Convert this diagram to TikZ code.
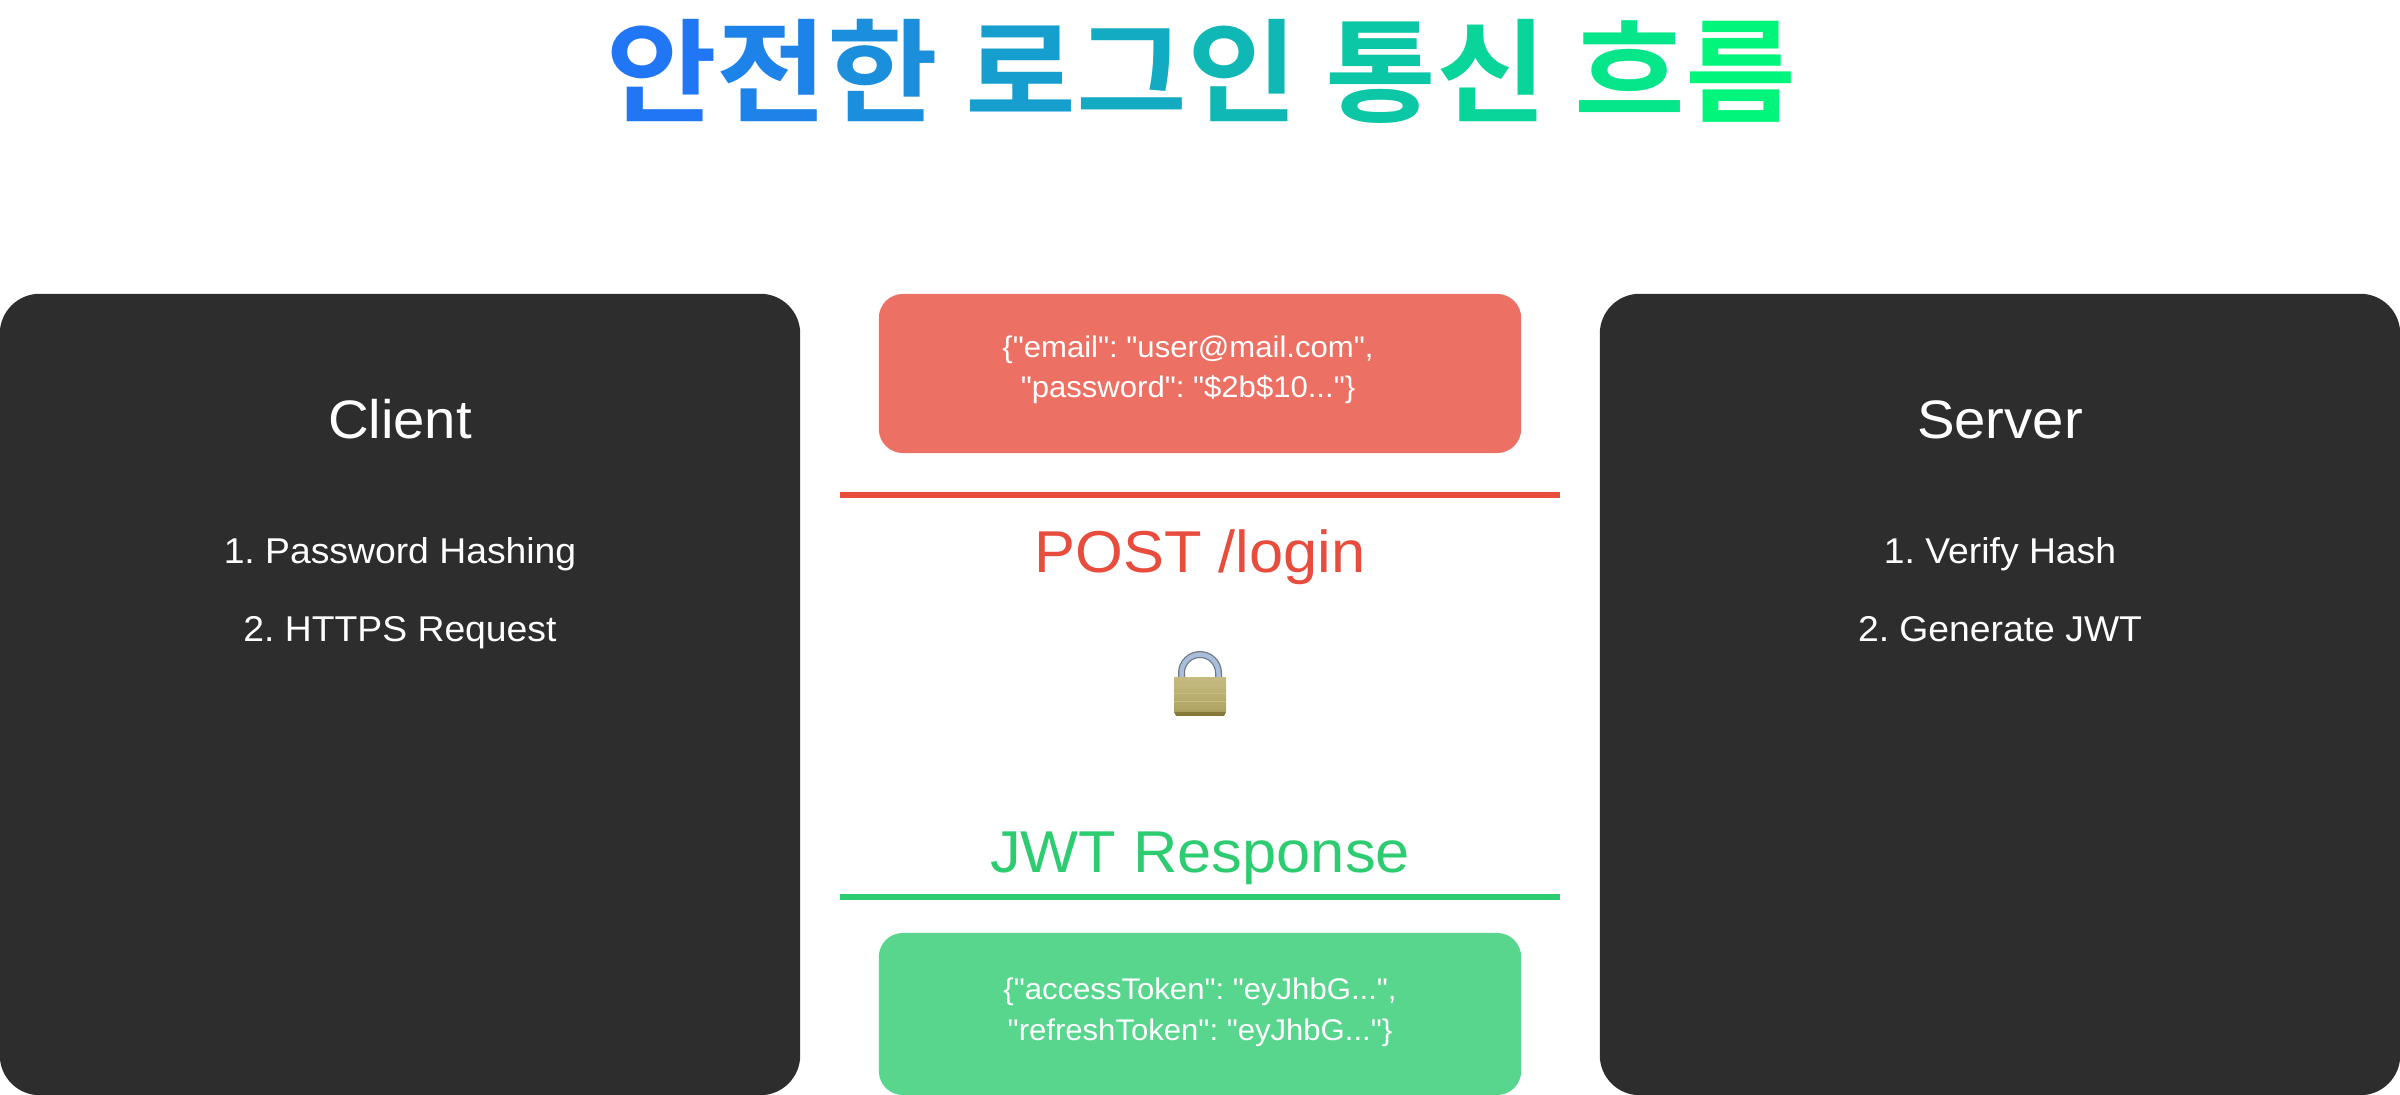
\documentclass[tikz,border=0pt]{standalone}
\usepackage{fontspec}
\setmainfont{Liberation Sans}[Ligatures=TeXOff, FakeStretch=1.04]
\newfontfamily\krfont{Noto Sans CJK KR}[BoldFont={Noto Sans CJK KR Bold}, FakeStretch=1.07]
\usetikzlibrary{positioning}
\definecolor{panelgray}{HTML}{2D2D2D}
\definecolor{postred}{HTML}{E74C3C}
\definecolor{postfill}{HTML}{EC7063}
\definecolor{jwtgreen}{HTML}{2ECC71}
\definecolor{jwtfill}{HTML}{58D68D}
\definecolor{titlestart}{HTML}{2176F5}
\definecolor{titleend}{HTML}{00F57A}
\definecolor{brasstop}{HTML}{C6BB80}
\definecolor{brassbottom}{HTML}{AEA262}
\definecolor{brassedge}{HTML}{85793A}
\definecolor{shackleedge}{HTML}{6F7780}
\definecolor{shacklefill}{HTML}{A9BEDD}
\newcommand{\grad}[2]{\textcolor{titleend!#1!titlestart}{#2}}

\begin{document}
\frenchspacing
\begin{tikzpicture}[x=0.01cm, y=-0.01cm,
    panel/.style={fill=panelgray, rounded corners=0.4cm, minimum width=8cm, minimum height=8.01cm, inner sep=0},
    payload/.style={rounded corners=0.24cm, minimum width=6.42cm, inner sep=0},
    paneltitle/.style={anchor=base, text=white, font=\fontsize{15.4}{18}\selectfont},
    stepline/.style={anchor=base, text=white, font=\fontsize{10.2}{12}\selectfont},
    payloadtext/.style={anchor=base, text=white, align=center, font=\fontsize{8.5}{11.6}\selectfont},
    routelabel/.style={anchor=base, font=\fontsize{16.8}{20}\selectfont},
    routeline/.style={line width=0.06cm}]
    \useasboundingbox (0,0) rectangle (2400,1095);

    % title
    \node [anchor=base, inner sep=0] (title) at (1201,114) {\krfont\bfseries\fontsize{32}{40}\selectfont
      \grad{0}{안}\grad{10}{전}\grad{20}{한} \grad{32}{로}\grad{42}{그}\grad{52}{인} \grad{64}{통}\grad{74}{신} \grad{88}{흐}\grad{100}{름}};

    % client and server
    \node [panel] (client) at (400,694.5) {};
    \node [panel] (server) at (2000,694.5) {};
    \node [paneltitle] (client_title) at (400,439) {Client};
    \node [stepline] (client_1) at (400,564) {1. Password Hashing};
    \node [stepline] (client_2) at (400,642) {2. HTTPS Request};
    \node [paneltitle] (server_title) at (2000,439) {Server};
    \node [stepline] (server_1) at (2000,564) {1. Verify Hash};
    \node [stepline] (server_2) at (2000,642) {2. Generate JWT};

    % request
    \node [payload, fill=postfill, minimum height=1.59cm] (post_box) at (1200,373.5) {};
    \node [payloadtext] (post_text) at (1188,398) {\{"email": "user@mail.com",\\"password": "\$2b\$10..."\}};
    \coordinate (post_l) at (840,495);
    \coordinate (post_r) at (1560,495);
    \draw [routeline, postred] (post_l) -- (post_r);
    \node [routelabel, text=postred] (post_label) at (1200,573) {POST /login};

    % lock
    \draw [line width=0.07cm, shackleedge] (1181.5,680) -- (1181.5,673) arc (180:360:18.5) -- (1218.5,680);
    \draw [line width=0.045cm, shacklefill] (1181.5,680) -- (1181.5,673) arc (180:360:18.5) -- (1218.5,680);
    \fill [top color=brasstop, bottom color=brassbottom] (1174,678) rectangle (1226,712);
    \foreach \stripey in {686,694,702}
      \draw [brasstop, line width=0.01cm] (1174,\stripey) -- (1226,\stripey);
    \fill [brassedge] (1174,712) -- (1226,712) -- (1224,716) -- (1176,716) -- cycle;

    % response
    \node [routelabel, text=jwtgreen] (jwt_label) at (1200,873) {JWT Response};
    \coordinate (jwt_l) at (840,897);
    \coordinate (jwt_r) at (1560,897);
    \draw [routeline, jwtgreen] (jwt_l) -- (jwt_r);
    \node [payload, fill=jwtfill, minimum height=1.62cm] (jwt_box) at (1200,1014) {};
    \node [payloadtext] (jwt_text) at (1200,1040) {\{"accessToken": "eyJhbG...",\\"refreshToken": "eyJhbG..."\}};
\end{tikzpicture}
\end{document}
